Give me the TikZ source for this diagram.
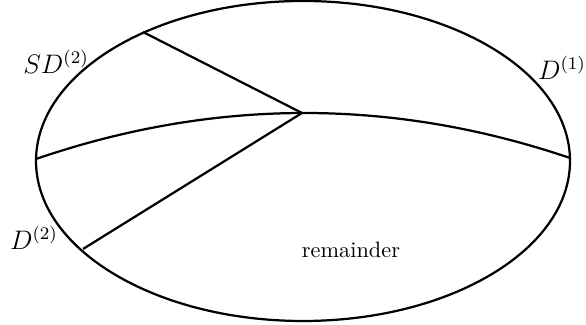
\documentclass[tikz,border=0pt]{standalone}
\begin{document}
\begin{tikzpicture}[x=0.4484pt,y=-0.4484pt,
  edge/.style={line width=1pt},
  lbl/.style={inner sep=0pt,font=\large},
  txt/.style={inner sep=0pt}]
\useasboundingbox (0,0) rectangle (586,325);
\draw[edge] (303,161) ellipse [x radius=267, y radius=160];
\coordinate (hub) at (302,113);
\coordinate (a) at (143,32);
\coordinate (b) at (83,249);
\coordinate (l) at (36,159);
\coordinate (r) at (570,158);
\draw[edge] (l) .. controls (214,98) and (392,97.7) .. (r);
\draw[edge] (hub) -- (a);
\draw[edge] (hub) -- (b);
\node[lbl] (sd2) at (56,62) {$SD^{(2)}$};
\node[lbl] (d1) at (562,68) {$D^{(1)}$};
\node[lbl] (d2) at (34,238) {$D^{(2)}$};
\node[txt] (rem) at (351,250) {remainder};
\end{tikzpicture}
\end{document}
